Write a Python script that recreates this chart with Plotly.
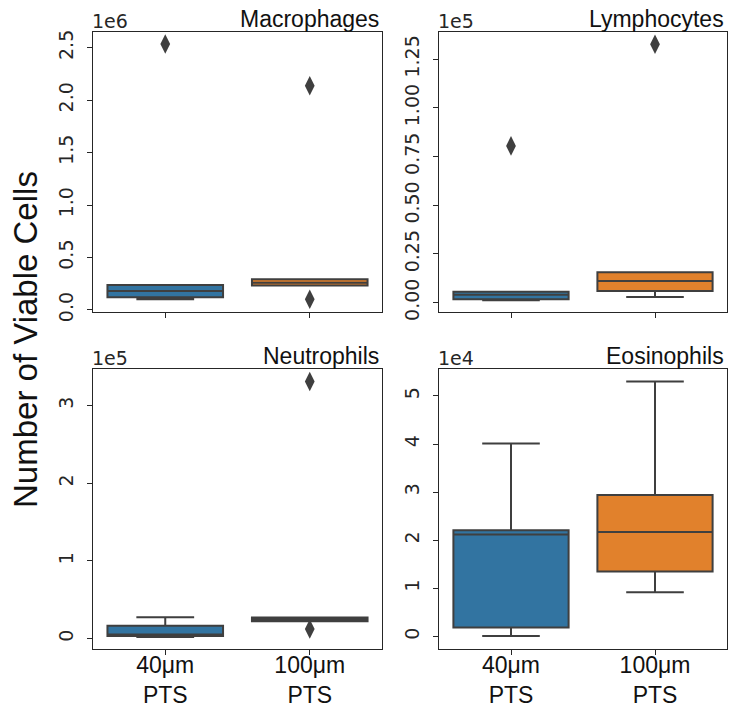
import plotly.graph_objects as go

# ---------------- data ----------------
groups = ["40μm<br>PTS", "100μm<br>PTS"]
cell_types = ["Macrophages", "Lymphocytes", "Neutrophils", "Eosinophils"]
colors = ["#3274a1", "#e1812c"]

# box statistics per group: [40μm, 100μm]
mac_lo = [0.102e6, 0.232e6]
mac_q1 = [0.121e6, 0.232e6]
mac_med = [0.181e6, 0.260e6]
mac_q3 = [0.238e6, 0.293e6]
mac_hi = [0.238e6, 0.293e6]
mac_out = [[2.535e6], [2.137e6, 0.102e6]]

lym_lo = [1200, 2900]
lym_q1 = [1750, 6000]
lym_med = [4100, 11150]
lym_q3 = [5650, 15600]
lym_hi = [5650, 15600]
lym_out = [[80500], [132700]]

neu_lo = [2000, 22500]
neu_q1 = [3500, 22500]
neu_med = [5500, 24800]
neu_q3 = [16700, 27300]
neu_hi = [27400, 27300]
neu_out = [[], [331000, 12500]]

eos_lo = [100, 9200]
eos_q1 = [1870, 13500]
eos_med = [21200, 21700]
eos_q3 = [22100, 29400]
eos_hi = [40100, 53000]
eos_out = [[], []]

# y ticks
mac_ticks = [0, 0.5e6, 1.0e6, 1.5e6, 2.0e6, 2.5e6]
mac_ticktext = ["0.0", "0.5", "1.0", "1.5", "2.0", "2.5"]
lym_ticks = [0, 0.25e5, 0.5e5, 0.75e5, 1.0e5, 1.25e5]
lym_ticktext = ["0.00", "0.25", "0.50", "0.75", "1.00", "1.25"]
neu_ticks = [0, 1e5, 2e5, 3e5]
neu_ticktext = ["0", "1", "2", "3"]
eos_ticks = [0, 1e4, 2e4, 3e4, 4e4, 5e4]
eos_ticktext = ["0", "1", "2", "3", "4", "5"]

multipliers = ["1e6", "1e5", "1e5", "1e4"]
yranges = [[-0.02e6, 2.65e6], [-0.048e5, 1.39e5], [-0.133e5, 3.47e5], [-0.26e4, 5.56e4]]

panels = [
    (mac_lo, mac_q1, mac_med, mac_q3, mac_hi, mac_out, mac_ticks, mac_ticktext),
    (lym_lo, lym_q1, lym_med, lym_q3, lym_hi, lym_out, lym_ticks, lym_ticktext),
    (neu_lo, neu_q1, neu_med, neu_q3, neu_hi, neu_out, neu_ticks, neu_ticktext),
    (eos_lo, eos_q1, eos_med, eos_q3, eos_hi, eos_out, eos_ticks, eos_ticktext),
]

# ---------------- layout geometry ----------------
W, H = 730, 708
xdoms = [[93 / W, 382 / W], [439 / W, 727 / W]]
ydoms = [[1 - 312 / H, 1 - 32 / H], [1 - 649 / H, 1 - 369 / H]]

LINE = "#3f3f3f"
AX = "#262626"
TICKFONT = dict(family="DejaVu Sans", size=19, color=AX)
TEXTFONT = "Liberation Sans, Arial, sans-serif"

fig = go.Figure()
layout = dict(
    width=W, height=H,
    margin=dict(l=0, r=0, t=0, b=0, autoexpand=False),
    paper_bgcolor="white", plot_bgcolor="white",
    showlegend=False, boxmode="overlay",
    annotations=[],
)

for i, (lo, q1, med, q3, hi, outs, tv, tt) in enumerate(panels):
    row, col = divmod(i, 2)
    n = i + 1
    xa = "x" if n == 1 else f"x{n}"
    ya = "y" if n == 1 else f"y{n}"
    for g in range(2):
        fig.add_trace(go.Box(
            x=[groups[g]], q1=[q1[g]], median=[med[g]], q3=[q3[g]],
            lowerfence=[lo[g]], upperfence=[hi[g]],
            fillcolor=colors[g], line=dict(color=LINE, width=2),
            width=0.8, whiskerwidth=0.5, boxpoints=False,
            xaxis=xa, yaxis=ya, hoverinfo="skip",
        ))
        if outs[g]:
            fig.add_trace(go.Scatter(
                x=[groups[g]] * len(outs[g]), y=outs[g], mode="markers",
                marker=dict(symbol="diamond-tall", size=14, color=LINE,
                            line=dict(width=0)),
                xaxis=xa, yaxis=ya, hoverinfo="skip",
            ))
    xkey = "xaxis" if n == 1 else f"xaxis{n}"
    ykey = "yaxis" if n == 1 else f"yaxis{n}"
    layout[xkey] = dict(
        domain=xdoms[col], anchor=ya, type="category",
        categoryorder="array", categoryarray=groups,
        range=[-0.5, 1.5], showline=True, mirror=True, automargin=False,
        linecolor=AX, linewidth=1.3, ticks="outside", ticklen=5,
        tickcolor=AX, tickwidth=1.3, showgrid=False, zeroline=False,
        showticklabels=(row == 1), ticklabelstandoff=-10,
        tickfont=dict(family=TEXTFONT, size=23, color="#111111"),
    )
    layout[ykey] = dict(
        domain=ydoms[row], anchor=xa, range=yranges[i], automargin=False,
        tickvals=tv, ticktext=tt, tickangle=-90,
        showline=True, mirror=True, linecolor=AX, linewidth=1.3,
        ticks="outside", ticklen=5, tickcolor=AX, tickwidth=1.3,
        showgrid=False, zeroline=False, tickfont=TICKFONT,
        ticklabelstandoff=6,
    )
    # multiplier text
    layout["annotations"].append(dict(
        text=multipliers[i], xref="paper", yref="paper",
        x=xdoms[col][0], y=ydoms[row][1], xanchor="left", yanchor="bottom",
        showarrow=False, font=TICKFONT, yshift=-2, xshift=-3,
    ))
    # panel title
    layout["annotations"].append(dict(
        text=cell_types[i], xref="paper", yref="paper",
        x=xdoms[col][1] - 1 / W, y=ydoms[row][1], xanchor="right", yanchor="bottom",
        showarrow=False, font=dict(family=TEXTFONT, size=23, color="#111111"),
        yshift=-2,
    ))

layout["annotations"].append(dict(
    text="Number of Viable Cells", xref="paper", yref="paper",
    x=25 / W, y=1 - 340 / H, xanchor="center", yanchor="middle",
    textangle=-90, showarrow=False,
    font=dict(family=TEXTFONT, size=33, color="#111111"),
))

fig.update_layout(**layout)
fig.write_html("out.html")
